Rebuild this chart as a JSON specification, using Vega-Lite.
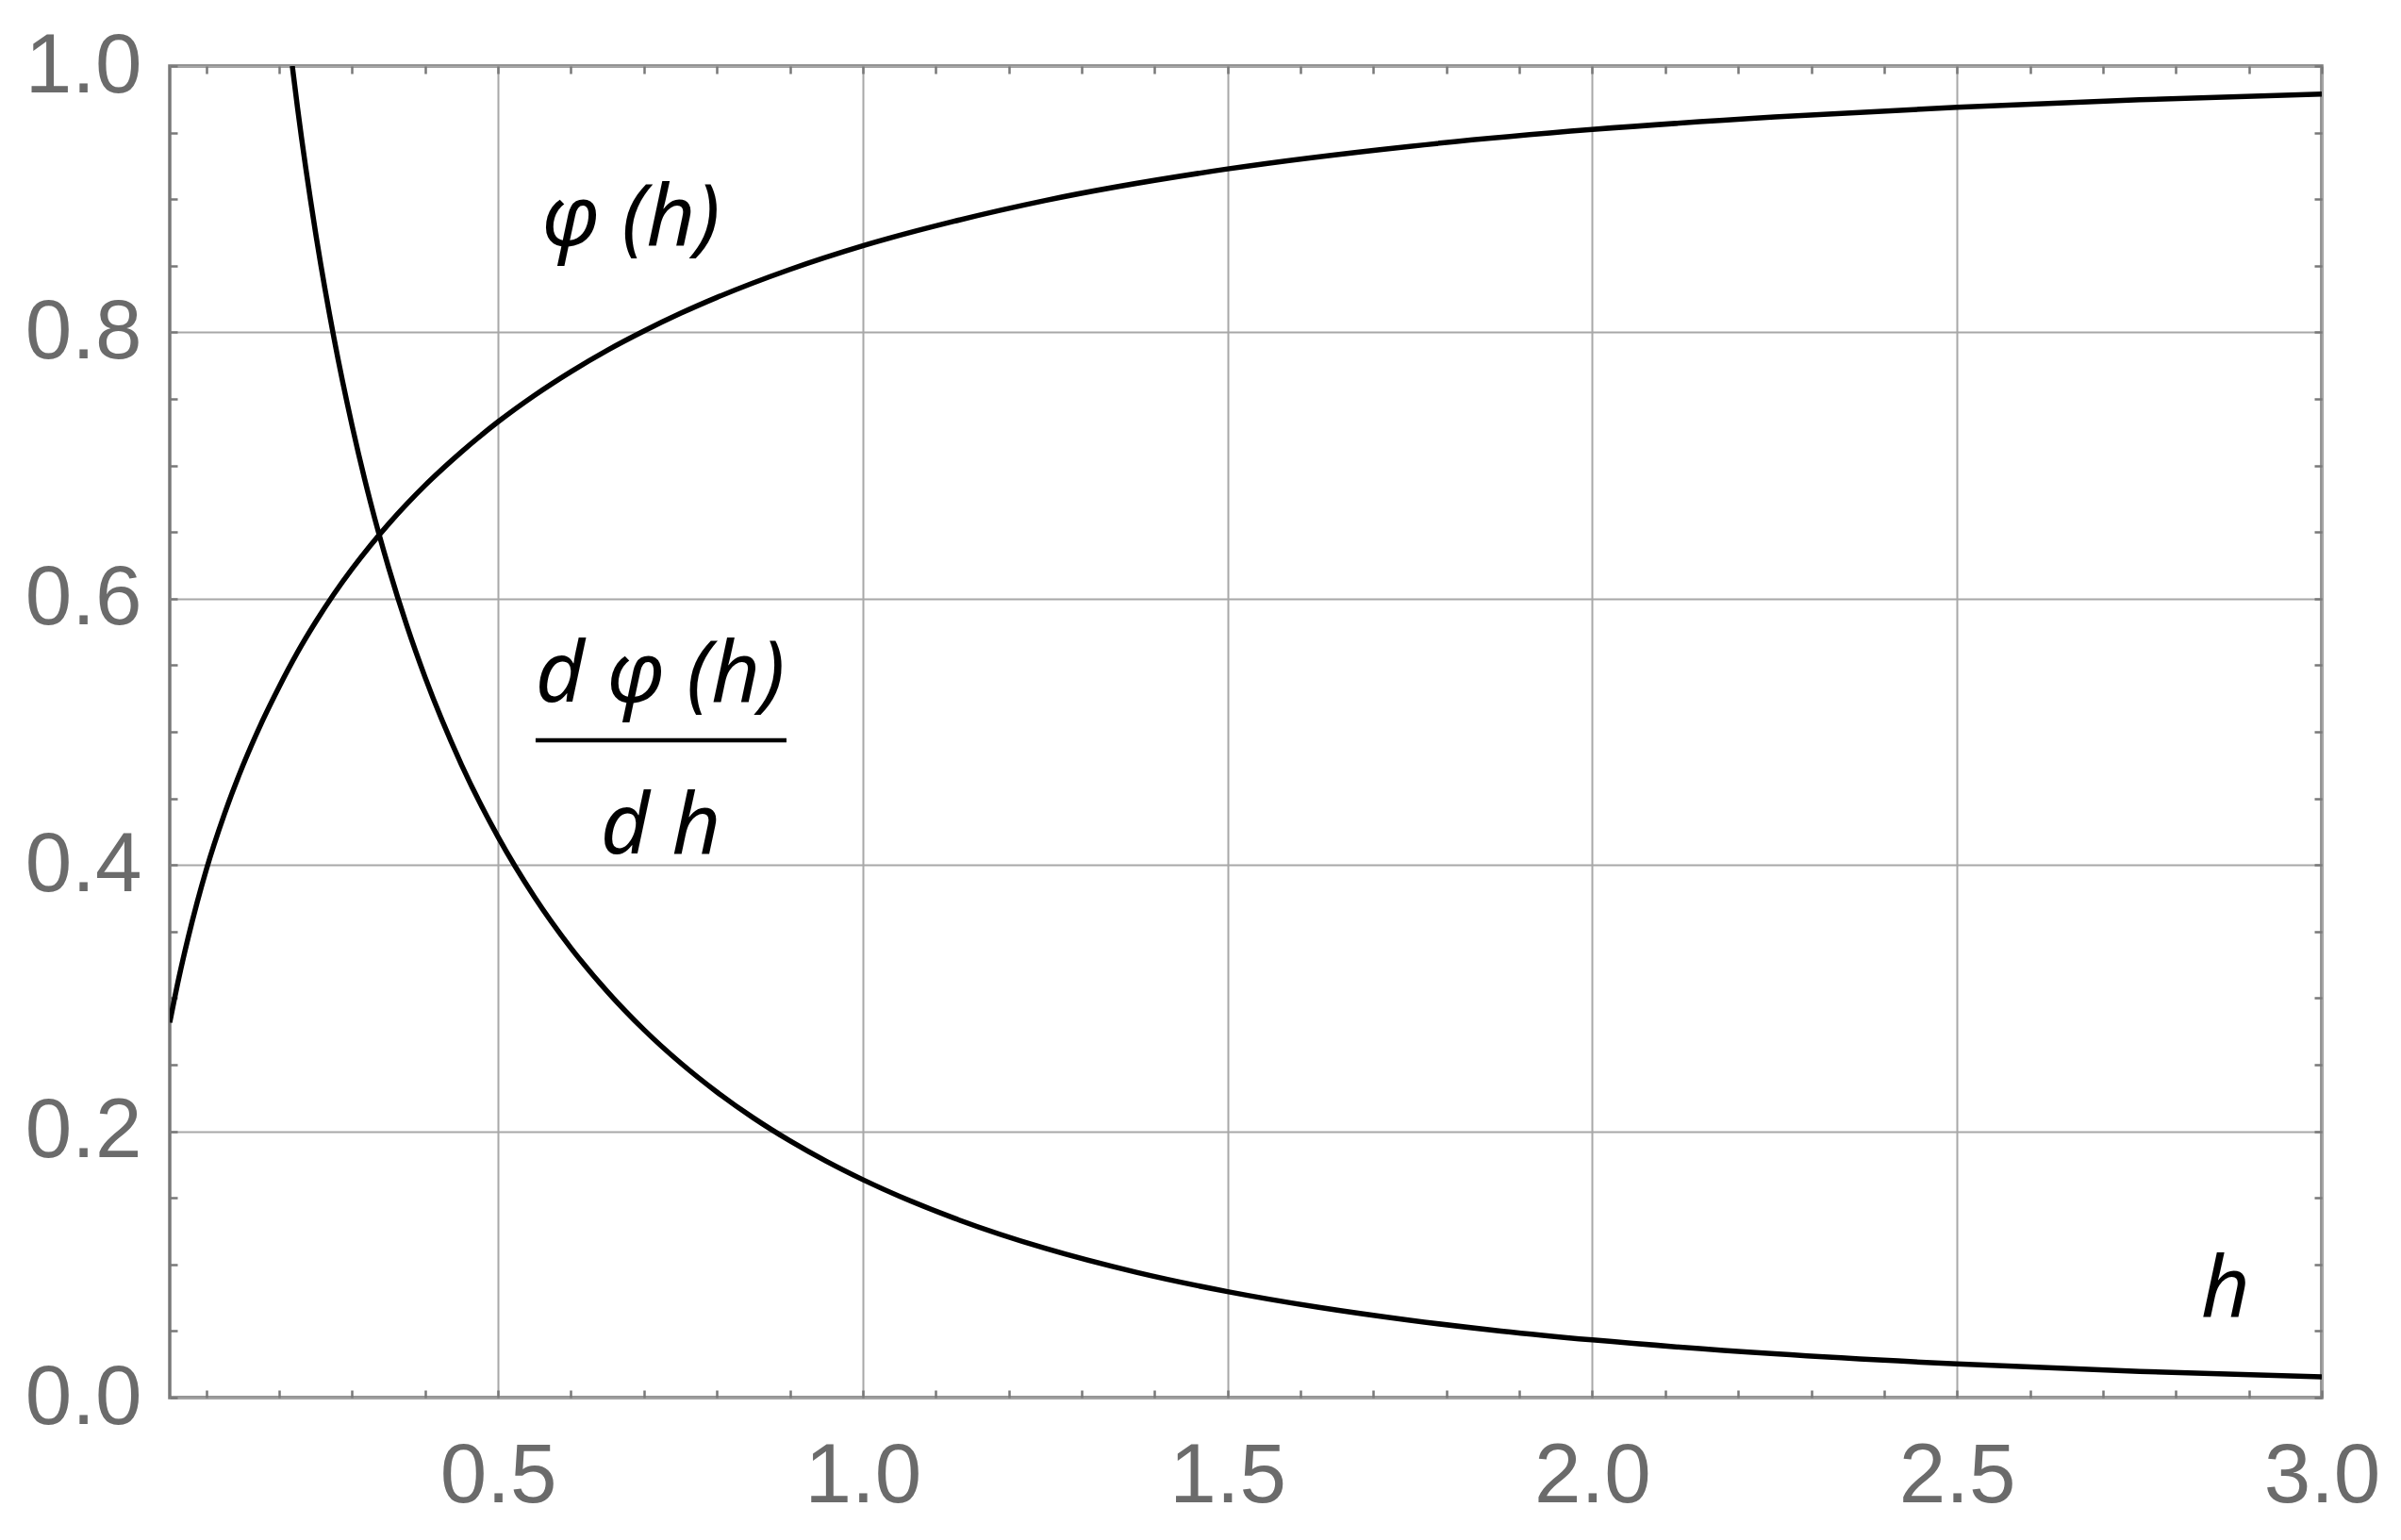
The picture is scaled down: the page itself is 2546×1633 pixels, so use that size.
{
  "$schema": "https://vega.github.io/schema/vega-lite/v6.json",
  "width": 2282,
  "height": 1412,
  "autosize": {"type": "none"},
  "padding": {"left": 180, "top": 70, "right": 84, "bottom": 151},
  "background": "white",
  "config": {
    "view": {"stroke": "#787878", "strokeWidth": 3.5},
    "axis": {
      "domain": false,
      "tickColor": "#787878",
      "tickWidth": 2.5,
      "tickSize": -8,
      "gridColor": "#a8a8a8",
      "gridWidth": 2,
      "labelFont": "Liberation Sans",
      "labelFontSize": 89,
      "labelColor": "#6b6b6b",
      "title": null,
      "labelOverlap": false,
      "labelFlush": false,
      "labelBound": false
    }
  },
  "datasets": {
    "phi": [
      {"h": 0.05, "v": 0.2817}, {"h": 0.0625, "v": 0.3152}, {"h": 0.075, "v": 0.3449},
      {"h": 0.0875, "v": 0.3718}, {"h": 0.1, "v": 0.3963}, {"h": 0.125, "v": 0.4383},
      {"h": 0.15, "v": 0.4743}, {"h": 0.175, "v": 0.5058}, {"h": 0.2, "v": 0.5339},
      {"h": 0.225, "v": 0.5596}, {"h": 0.25, "v": 0.5825}, {"h": 0.275, "v": 0.6034},
      {"h": 0.3, "v": 0.6224}, {"h": 0.325, "v": 0.6399}, {"h": 0.35, "v": 0.6561},
      {"h": 0.375, "v": 0.6711}, {"h": 0.4, "v": 0.6851}, {"h": 0.45, "v": 0.7103},
      {"h": 0.5, "v": 0.7328}, {"h": 0.55, "v": 0.7527}, {"h": 0.6, "v": 0.7705},
      {"h": 0.65, "v": 0.7866}, {"h": 0.7, "v": 0.8010}, {"h": 0.75, "v": 0.8142},
      {"h": 0.8, "v": 0.8262}, {"h": 0.9, "v": 0.8472}, {"h": 1.0, "v": 0.8650},
      {"h": 1.125, "v": 0.8834}, {"h": 1.25, "v": 0.8990}, {"h": 1.5, "v": 0.9227},
      {"h": 1.75, "v": 0.9397}, {"h": 2.0, "v": 0.9523}, {"h": 2.25, "v": 0.9617},
      {"h": 2.5, "v": 0.9690}, {"h": 2.75, "v": 0.9746}, {"h": 3.0, "v": 0.9790}
    ],
    "dphi": [
      {"h": 0.218, "v": 1.0}, {"h": 0.225, "v": 0.9693}, {"h": 0.25, "v": 0.8745},
      {"h": 0.275, "v": 0.796}, {"h": 0.3, "v": 0.7298}, {"h": 0.325, "v": 0.6727},
      {"h": 0.35, "v": 0.6233}, {"h": 0.375, "v": 0.5797}, {"h": 0.4, "v": 0.5410},
      {"h": 0.45, "v": 0.4752}, {"h": 0.5, "v": 0.4211}, {"h": 0.55, "v": 0.3759},
      {"h": 0.6, "v": 0.3376}, {"h": 0.65, "v": 0.3048}, {"h": 0.7, "v": 0.2763},
      {"h": 0.75, "v": 0.2514}, {"h": 0.8, "v": 0.2295}, {"h": 0.85, "v": 0.2101},
      {"h": 0.9, "v": 0.1929}, {"h": 0.95, "v": 0.1775}, {"h": 1.0, "v": 0.1637},
      {"h": 1.125, "v": 0.1348}, {"h": 1.25, "v": 0.1121}, {"h": 1.375, "v": 0.0941},
      {"h": 1.5, "v": 0.0796}, {"h": 1.625, "v": 0.0678}, {"h": 1.75, "v": 0.0581},
      {"h": 1.875, "v": 0.0500}, {"h": 2.0, "v": 0.0433}, {"h": 2.25, "v": 0.0329},
      {"h": 2.5, "v": 0.0253}, {"h": 2.75, "v": 0.0197}, {"h": 3.0, "v": 0.0156}
    ]
  },
  "layer": [
    {
      "data": {"name": "phi"},
      "mark": {"type": "line", "color": "black", "strokeWidth": 5.5, "interpolate": "monotone", "clip": true},
      "encoding": {
        "x": {
          "field": "h", "type": "quantitative",
          "scale": {"domain": [0.05, 3], "nice": false, "zero": false},
          "axis": {
            "orient": "bottom",
            "values": [0.1,0.2,0.3,0.4,0.5,0.6,0.7,0.8,0.9,1.0,1.1,1.2,1.3,1.4,1.5,1.6,1.7,1.8,1.9,2.0,2.1,2.2,2.3,2.4,2.5,2.6,2.7,2.8,2.9,3.0],
            "format": ".1f",
            "labelExpr": "abs(datum.value*2-round(datum.value*2))<1e-6 ? datum.label : ''",
            "grid": true,
            "gridOpacity": {"condition": {"test": "abs(datum.value*2-round(datum.value*2))<1e-6", "value": 1}, "value": 0},
            "labelPadding": 48
          }
        },
        "y": {
          "field": "v", "type": "quantitative",
          "scale": {"domain": [0, 1], "nice": false, "zero": false},
          "axis": {
            "orient": "left",
            "values": [0,0.05,0.1,0.15,0.2,0.25,0.3,0.35,0.4,0.45,0.5,0.55,0.6,0.65,0.7,0.75,0.8,0.85,0.9,0.95,1.0],
            "format": ".1f",
            "labelExpr": "abs(datum.value*5-round(datum.value*5))<1e-6 ? datum.label : ''",
            "grid": true,
            "gridOpacity": {"condition": {"test": "abs(datum.value*5-round(datum.value*5))<1e-6", "value": 1}, "value": 0},
            "labelPadding": 38
          }
        }
      }
    },
    {
      "data": {"name": "dphi"},
      "mark": {"type": "line", "color": "black", "strokeWidth": 5.5, "interpolate": "monotone", "clip": true},
      "encoding": {
        "x": {
          "field": "h", "type": "quantitative",
          "axis": {
            "orient": "top",
            "values": [0.1,0.2,0.3,0.4,0.5,0.6,0.7,0.8,0.9,1.0,1.1,1.2,1.3,1.4,1.5,1.6,1.7,1.8,1.9,2.0,2.1,2.2,2.3,2.4,2.5,2.6,2.7,2.8,2.9,3.0],
            "labels": false,
            "grid": false
          }
        },
        "y": {
          "field": "v", "type": "quantitative",
          "axis": {
            "orient": "right",
            "values": [0,0.05,0.1,0.15,0.2,0.25,0.3,0.35,0.4,0.45,0.5,0.55,0.6,0.65,0.7,0.75,0.8,0.85,0.9,0.95,1.0],
            "labels": false,
            "grid": false
          }
        }
      }
    },
    {
      "data": {"values": [{}]},
      "mark": {"type": "text", "text": "φ (h)", "font": "Noto Sans", "fontStyle": "italic", "fontSize": 90, "color": "black", "align": "center", "baseline": "alphabetic"},
      "encoding": {
        "x": {"datum": 0.682, "type": "quantitative", "axis": null},
        "y": {"datum": 0.8656, "type": "quantitative", "axis": null}
      }
    },
    {
      "data": {"values": [{}]},
      "mark": {"type": "text", "text": "d φ (h)", "font": "Noto Sans", "fontStyle": "italic", "fontSize": 90, "color": "black", "align": "center", "baseline": "alphabetic"},
      "encoding": {
        "x": {"datum": 0.7222, "type": "quantitative", "axis": null},
        "y": {"datum": 0.5227, "type": "quantitative", "axis": null}
      }
    },
    {
      "data": {"values": [{}]},
      "mark": {"type": "rule", "color": "black", "strokeWidth": 4.5},
      "encoding": {
        "x": {"datum": 0.5515, "type": "quantitative", "axis": null},
        "x2": {"datum": 0.8954},
        "y": {"datum": 0.4936, "type": "quantitative", "axis": null}
      }
    },
    {
      "data": {"values": [{}]},
      "mark": {"type": "text", "text": "d h", "font": "Noto Sans", "fontStyle": "italic", "fontSize": 90, "color": "black", "align": "center", "baseline": "alphabetic"},
      "encoding": {
        "x": {"datum": 0.7228, "type": "quantitative", "axis": null},
        "y": {"datum": 0.4086, "type": "quantitative", "axis": null}
      }
    },
    {
      "data": {"values": [{}]},
      "mark": {"type": "text", "text": "h", "font": "Noto Sans", "fontStyle": "italic", "fontSize": 90, "color": "black", "align": "center", "baseline": "alphabetic"},
      "encoding": {
        "x": {"datum": 2.868, "type": "quantitative", "axis": null},
        "y": {"datum": 0.0607, "type": "quantitative", "axis": null}
      }
    }
  ],
  "resolve": {"axis": {"x": "independent", "y": "independent"}}
}
